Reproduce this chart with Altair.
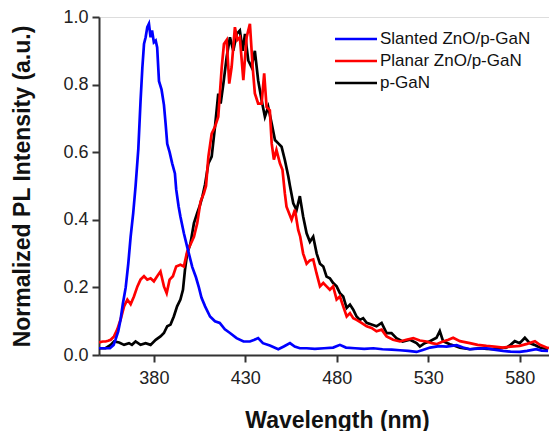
import altair as alt
import pandas as pd

series_names = ["Slanted ZnO/p-GaN", "Planar ZnO/p-GaN", "p-GaN"]
series_colors = ["#0000FF", "#FF0000", "#000000"]

blue_wl = [350, 353, 356, 358, 359, 360.5, 361.8, 363, 364.6, 366, 367.3, 368.7, 370, 371.5, 372.7,
           373.7, 374.6, 375.5, 376.4, 377.3, 378.2, 379, 380, 381, 381.8, 382.8, 384.2, 385.5, 386.4,
           387.3, 388.6, 390, 391.5, 392.2, 393.5, 394.5, 396.4, 398.2, 401, 403, 404.6, 406, 408,
           410.7, 413.4, 416, 418.8, 421.6, 425.2, 429, 432.5, 435, 437, 439.6, 443.4, 448, 451,
           454.4, 457, 459.8, 463.5, 468, 473, 478, 481.7, 485, 490, 495, 500, 505, 510, 514.5, 519,
           523.6, 527, 531, 536, 540, 545.5, 549, 552.7, 557, 561.8, 566, 570.8, 575, 580, 584, 589,
           592, 595.5]
blue_val = [0.02, 0.02, 0.02, 0.03, 0.045, 0.07, 0.105, 0.15, 0.20, 0.27, 0.35, 0.42, 0.50, 0.61, 0.75,
            0.85, 0.92, 0.94, 0.97, 0.98, 0.94, 0.96, 0.925, 0.93, 0.91, 0.81, 0.785, 0.74, 0.685,
            0.625, 0.60, 0.567, 0.537, 0.49, 0.44, 0.41, 0.36, 0.32, 0.26, 0.23, 0.20, 0.17, 0.144,
            0.114, 0.10, 0.095, 0.076, 0.065, 0.05, 0.04, 0.04, 0.045, 0.05, 0.035, 0.028, 0.017, 0.025,
            0.035, 0.025, 0.02, 0.02, 0.018, 0.02, 0.022, 0.03, 0.022, 0.02, 0.018, 0.02, 0.017, 0.016,
            0.014, 0.012, 0.009, 0.015, 0.022, 0.026, 0.025, 0.029, 0.022, 0.017, 0.019, 0.02, 0.016,
            0.012, 0.01, 0.009, 0.012, 0.017, 0.013, 0.012]

red_wl = [350, 352, 353.6, 355, 356.4, 358.2, 360, 361.8, 363.7, 365.5, 367.3, 369.1, 371, 372.7, 374.6,
          376.4, 378.2, 380, 381.8, 383.6, 385.5, 387, 388.6, 390.4, 392.2, 394.5, 396.4, 398.2, 400,
          401.9, 403.7, 405.5, 407.3, 408.5, 409.8, 411.6, 413.4, 415.2, 417.1, 418.3, 419.8, 421.2,
          422.5, 424.3, 425.6, 427, 428.9, 430.7, 432.5, 434, 435.2, 437, 438.9, 440.3, 441.6, 443.4,
          444.4, 445.6, 447, 448.9, 450.3, 451.6, 452.5, 455.3, 457.1, 458.9, 460, 461.6, 463.5, 465.3,
          467.1, 468.9, 470.8, 472.6, 474.4, 476.2, 478, 479.9, 481.7, 483.5, 485.4, 487.2, 489, 490.8,
          493.5, 496.3, 499, 501.7, 504.5, 507.2, 510.8, 514.5, 518, 521.8, 525.4, 529, 532, 534.5,
          538, 541, 543.6, 547.3, 552.7, 557, 561.8, 566, 570.9, 575, 580, 584, 588.3, 591, 594.6, 596]
red_val = [0.037, 0.04, 0.04, 0.042, 0.045, 0.055, 0.076, 0.105, 0.144, 0.164, 0.15, 0.173, 0.203, 0.223,
           0.233, 0.223, 0.227, 0.218, 0.233, 0.247, 0.203, 0.183, 0.223, 0.233, 0.262, 0.267, 0.262,
           0.306, 0.327, 0.35, 0.39, 0.454, 0.478, 0.50, 0.587, 0.655, 0.675, 0.705, 0.852, 0.92, 0.932,
           0.803, 0.852, 0.97, 0.932, 0.94, 0.813, 0.94, 0.98, 0.852, 0.774, 0.744, 0.744, 0.833, 0.734,
           0.724, 0.626, 0.578, 0.607, 0.567, 0.548, 0.478, 0.439, 0.40, 0.43, 0.37, 0.35, 0.30, 0.27,
           0.28, 0.283, 0.242, 0.203, 0.213, 0.203, 0.193, 0.203, 0.164, 0.173, 0.144, 0.114, 0.124,
           0.109, 0.104, 0.095, 0.085, 0.08, 0.07, 0.075, 0.055, 0.045, 0.04, 0.045, 0.05, 0.043, 0.04,
           0.035, 0.032, 0.04, 0.045, 0.051, 0.041, 0.035, 0.03, 0.027, 0.025, 0.022, 0.025, 0.027,
           0.033, 0.041, 0.03, 0.022, 0.02]

black_wl = [350, 353.6, 356.4, 358.2, 361, 363.7, 366.4, 368, 370, 372.7, 375.5, 378.2, 381, 383.6, 385.5,
            387.3, 389.1, 390.9, 392.7, 394.5, 395.9, 397, 398.2, 400, 401.9, 403.7, 405, 406.5, 408,
            409.8, 411.6, 413.4, 415.2, 416.5, 418, 419.8, 421.6, 423.4, 425.3, 427, 428.6, 429.8, 431.6,
            433.4, 435.2, 437, 438.9, 440.7, 442.5, 444.4, 446.2, 448, 449.8, 451.6, 453.5, 454.4, 456.2,
            458, 459.8, 461.6, 463.5, 465.3, 467.1, 469, 470.8, 472.6, 474.4, 476.2, 478, 479.9, 481.7,
            483.5, 485.4, 487.2, 489, 490.8, 492.6, 494.4, 496.3, 499, 501.7, 504.5, 507.2, 509.9, 512.6,
            516, 520, 523.6, 525.4, 528, 530.9, 534.5, 536.3, 538.1, 541.8, 544, 547.3, 552.7, 558.2,
            562, 565.5, 569, 572.8, 575, 577.3, 580, 582.8, 585.5, 588, 591, 595.4]
black_val = [0.02, 0.02, 0.03, 0.04, 0.037, 0.03, 0.035, 0.03, 0.04, 0.03, 0.035, 0.03, 0.045, 0.055, 0.065,
             0.085, 0.09, 0.114, 0.144, 0.164, 0.193, 0.252, 0.30, 0.33, 0.39, 0.42, 0.44, 0.468, 0.505,
             0.567, 0.587, 0.675, 0.773, 0.744, 0.803, 0.882, 0.94, 0.90, 0.95, 0.96, 0.90, 0.95, 0.872,
             0.852, 0.90, 0.813, 0.754, 0.705, 0.734, 0.685, 0.636, 0.626, 0.616, 0.577, 0.528, 0.50,
             0.449, 0.429, 0.47, 0.41, 0.36, 0.335, 0.35, 0.30, 0.27, 0.262, 0.232, 0.227, 0.213, 0.203,
             0.183, 0.173, 0.139, 0.149, 0.134, 0.114, 0.104, 0.109, 0.095, 0.09, 0.085, 0.095, 0.065,
             0.065, 0.05, 0.04, 0.045, 0.035, 0.025, 0.035, 0.041, 0.051, 0.071, 0.041, 0.032, 0.028,
             0.022, 0.017, 0.02, 0.018, 0.017, 0.02, 0.022, 0.03, 0.041, 0.035, 0.051, 0.035, 0.03,
             0.022, 0.017]

x_ticks = [380, 430, 480, 530, 580]
y_ticks = [0.0, 0.2, 0.4, 0.6, 0.8, 1.0]

frames = []
for name, wl, val in [(series_names[0], blue_wl, blue_val),
                      (series_names[1], red_wl, red_val),
                      (series_names[2], black_wl, black_val)]:
    frames.append(pd.DataFrame({"wl": wl, "val": val, "series": name, "idx": range(len(wl))}))
df = pd.concat(frames, ignore_index=True)
legend_df = pd.DataFrame({"series": series_names, "row": [0, 1, 2]})

FONT = "Liberation Sans"
AX = "#333333"

color = alt.Color("series:N", scale=alt.Scale(domain=series_names, range=series_colors), legend=None)

x_enc = alt.X("wl:Q", scale=alt.Scale(domain=[350, 596], nice=False, zero=False),
              axis=alt.Axis(values=x_ticks, title="Wavelength (nm)", format="d", grid=False,
                            tickSize=7, tickWidth=2, tickColor=AX, domainColor=AX, domainWidth=2,
                            labelFont=FONT, labelFontSize=18, labelColor="#222222", labelPadding=7,
                            titleFont=FONT, titleFontSize=23, titleFontWeight="bold", titleColor="#111111",
                            titleX=238, titleY=72, titleBaseline="alphabetic", titleAlign="center"))
y_enc = alt.Y("val:Q", scale=alt.Scale(domain=[0, 1.0], nice=False),
              axis=alt.Axis(values=y_ticks, title="Normalized PL Intensity (a.u.)", format=".1f", grid=False,
                            tickSize=7, tickWidth=2, tickColor=AX, domainColor=AX, domainWidth=2,
                            labelFont=FONT, labelFontSize=18, labelColor="#222222", labelPadding=4,
                            titleFont=FONT, titleFontSize=23, titleFontWeight="bold", titleColor="#111111",
                            titleX=-70, titleY=169, titleBaseline="alphabetic", titleAlign="center",
                            titleAngle=270))


def layer_for(name):
    return alt.Chart(df).transform_filter(alt.datum.series == name).mark_line(strokeWidth=2.7, clip=True).encode(
        x=x_enc, y=y_enc, color=color, order="idx:Q")


# legend rows (own linear scale for vertical placement)
leg_y = alt.Y("row:Q", scale=alt.Scale(domain=[0, 2], range=[22, 66], nice=False, zero=False), axis=None)
leg_lines = alt.Chart(legend_df).mark_rule(strokeWidth=2.5).encode(
    x=alt.value(236), x2=alt.value(278), y=leg_y, color=color)
leg_text = alt.Chart(legend_df).mark_text(
    align="left", baseline="middle", font=FONT, fontSize=17, color="#111111").encode(
    x=alt.value(281), y=leg_y, text="series:N")
legend_layer = alt.layer(leg_lines, leg_text)

lines = alt.layer(layer_for("p-GaN"), layer_for("Planar ZnO/p-GaN"), layer_for("Slanted ZnO/p-GaN"))

chart = alt.layer(lines, legend_layer).resolve_scale(y="independent").properties(
    width=450, height=338,
    autosize=alt.AutoSizeParams(type="none"),
    padding={"left": 99, "top": 17, "right": 0, "bottom": 76},
).configure_view(stroke=AX, strokeWidth=2).configure(background="white")

chart.save("out.html", embed_options={"renderer": "svg", "actions": False})
